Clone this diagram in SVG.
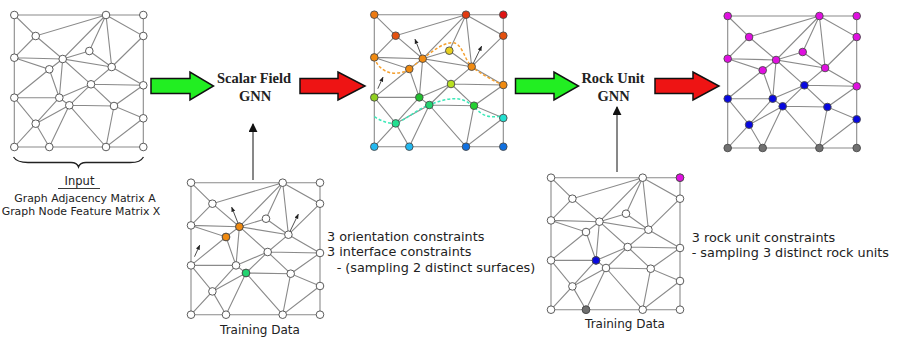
<svg xmlns="http://www.w3.org/2000/svg" xmlns:xlink="http://www.w3.org/1999/xlink" width="897" height="338" viewBox="0 0 897 338">
<style>
.edge{fill:none;stroke:#8a8a8a;stroke-width:1.1}
.nd{stroke:#4a4a4a;stroke-width:0.9}
.w{fill:#fff}
.lbl{font-family:"DejaVu Sans",Verdana,sans-serif;fill:#222}
.gnn{font-family:"Liberation Serif","Times New Roman",serif;font-weight:bold;font-size:14.5px;fill:#222;text-anchor:middle}
.big{stroke:#111;stroke-width:1.5;stroke-linejoin:miter}
.vec{stroke:#222;stroke-width:0.8;fill:none;marker-end:url(#sm)}
.dsh{fill:none;stroke-width:1.5;stroke-dasharray:3 2}
</style>
<defs>
<marker id="sm" viewBox="0 0 10 10" refX="9" refY="5" markerWidth="5" markerHeight="5" orient="auto" markerUnits="userSpaceOnUse"><path d="M0,1 L10,5 L0,9 Z" fill="#222"/></marker>
<marker id="ah" viewBox="0 0 10 10" refX="9" refY="5" markerWidth="9" markerHeight="9" orient="auto" markerUnits="userSpaceOnUse"><path d="M0,0 L10,5 L0,10 Z" fill="#111"/></marker>
<path id="edges" class="edge" d="M0,0 H129 V132 H0 Z M0,0 L21.4,21 L91.7,0 M21.4,21 L0,42.7 M21.4,21 L48.4,44 L91.7,0 L75,36 M91.7,0 L97.4,52 M91.7,0 L129,21 L97.4,52 M75,36 L48.4,44 M75,36 L97.4,52 M0,42.7 L48.4,44 M0,42.7 L35,54.3 L48.4,44 M35,54.3 L0,82.7 M35,54.3 L45,82.7 L48.4,44 L97.4,52 M48.4,44 L76.7,69.3 L97.4,52 L129,70.3 M76.7,69.3 L129,70.3 L99.7,91 L129,103.3 M76.7,69.3 L45,82.7 M76.7,69.3 L55,90.3 M76.7,69.3 L99.7,91 L55,90.3 M99.7,91 L91.7,132 L129,103.3 M55,90.3 L91.7,132 M55,90.3 L35,132 M55,90.3 L21.4,108.7 M45,82.7 L55,90.3 M45,82.7 L21.4,108.7 M0,82.7 L45,82.7 M0,82.7 L21.4,108.7 L0,132 M21.4,108.7 L35,132"/>
<g id="wnodes" class="nd">
<circle cx="0" cy="0" r="3.8"/><circle cx="91.7" cy="0" r="3.8"/><circle cx="129" cy="0" r="3.8"/><circle cx="21.4" cy="21" r="3.8"/><circle cx="129" cy="21" r="3.8"/><circle cx="75" cy="36" r="3.8"/><circle cx="0" cy="42.7" r="3.8"/><circle cx="48.4" cy="44" r="3.8"/><circle cx="35" cy="54.3" r="3.8"/><circle cx="97.4" cy="52" r="3.8"/><circle cx="76.7" cy="69.3" r="3.8"/><circle cx="129" cy="70.3" r="3.8"/><circle cx="0" cy="82.7" r="3.8"/><circle cx="45" cy="82.7" r="3.8"/><circle cx="55" cy="90.3" r="3.8"/><circle cx="99.7" cy="91" r="3.8"/><circle cx="129" cy="103.3" r="3.8"/><circle cx="21.4" cy="108.7" r="3.8"/><circle cx="0" cy="132" r="3.8"/><circle cx="35" cy="132" r="3.8"/><circle cx="91.7" cy="132" r="3.8"/><circle cx="129" cy="132" r="3.8"/>
</g>
<g id="vecs">
<path class="vec" d="M48.4,44 L40.7,24.5"/>
<path class="vec" d="M97.4,52 L107.3,31.5"/>
<path class="vec" d="M3.5,74 L8.7,62.5"/>
</g>
</defs>

<g id="input-graph" transform="translate(14.3,15)">
<use xlink:href="#edges"/>
<use xlink:href="#wnodes" fill="#fff"/>
</g>
<g id="input-label">
<path d="M13.5,157 C16,161 20,162.5 28,162.5 L71,162.5 C75,162.5 77.5,164 78.5,167 C79.5,164 82,162.5 86,162.5 L130,162.5 C138,162.5 141,161 143.5,157" fill="none" stroke="#222" stroke-width="1.3"/>
<text class="lbl" x="79.5" y="185" font-size="11.5" text-anchor="middle">Input</text>
<line x1="58" y1="188.5" x2="100" y2="188.5" stroke="#222" stroke-width="0.9"/>
<text class="lbl" x="85" y="201.5" font-size="10.9" text-anchor="middle">Graph Adjacency Matrix A</text>
<text class="lbl" x="81" y="214.5" font-size="10.9" text-anchor="middle">Graph Node Feature Matrix X</text>
</g>

<g id="scalar-gnn">
<text class="gnn" x="254" y="82.5">Scalar Field</text>
<text class="gnn" x="255" y="100.7">GNN</text>
</g>
<g id="rock-gnn">
<text class="gnn" x="613" y="82.5">Rock Unit</text>
<text class="gnn" x="613.5" y="100.7">GNN</text>
</g>

<g id="scalar-output" transform="translate(374.3,14.7)">
<use xlink:href="#edges"/>
<use xlink:href="#vecs"/>
<path class="dsh" stroke="#f4a030" d="M0,42.7 C3,53 12,59 22,58.5 C28,58 31,57 35,54.3 L48.4,44 C58,37 68,28 78,28 C88,28 90,45 97.4,52 C105,58 118,66 129,70.3"/>
<path class="dsh" stroke="#3de8b8" d="M0,102 C8,107 15,109 21.4,108.7 C32,105 45,93 55,90.3 C65,86 78,82 88,85 C98,88 104,99 112,101 C118,103 124,102 129,101"/>
<g class="nd">
<circle cx="0" cy="0" r="3.8" fill="#ec7a12"/><circle cx="91.7" cy="0" r="3.8" fill="#e23a10"/><circle cx="129" cy="0" r="3.8" fill="#e01414"/><circle cx="21.4" cy="21" r="3.8" fill="#e4500e"/><circle cx="129" cy="21" r="3.8" fill="#e4500e"/><circle cx="75" cy="36" r="3.8" fill="#e8d020"/><circle cx="0" cy="42.7" r="3.8" fill="#f08a10"/><circle cx="48.4" cy="44" r="3.8" fill="#f08a10"/><circle cx="35" cy="54.3" r="3.8" fill="#f08a10"/><circle cx="97.4" cy="52" r="3.8" fill="#f08a10"/><circle cx="76.7" cy="69.3" r="3.8" fill="#b8e020"/><circle cx="129" cy="70.3" r="3.8" fill="#f08a10"/><circle cx="0" cy="82.7" r="3.8" fill="#90d020"/><circle cx="45" cy="82.7" r="3.8" fill="#22c030"/><circle cx="55" cy="90.3" r="3.8" fill="#22d470"/><circle cx="99.7" cy="91" r="3.8" fill="#22d030"/><circle cx="129" cy="103.3" r="3.8" fill="#22e0d0"/><circle cx="21.4" cy="108.7" r="3.8" fill="#22e090"/><circle cx="0" cy="132" r="3.8" fill="#22b8f0"/><circle cx="35" cy="132" r="3.8" fill="#22b8f0"/><circle cx="91.7" cy="132" r="3.8" fill="#1070e0"/><circle cx="129" cy="132" r="3.8" fill="#1070e0"/>
</g>
</g>

<g id="rock-output" transform="translate(727.7,16)">
<use xlink:href="#edges"/>
<g class="nd">
<circle cx="0" cy="0" r="3.8" fill="#e010e0"/><circle cx="91.7" cy="0" r="3.8" fill="#e010e0"/><circle cx="129" cy="0" r="3.8" fill="#e010e0"/><circle cx="21.4" cy="21" r="3.8" fill="#e010e0"/><circle cx="129" cy="21" r="3.8" fill="#e010e0"/><circle cx="75" cy="36" r="3.8" fill="#e010e0"/><circle cx="0" cy="42.7" r="3.8" fill="#e010e0"/><circle cx="48.4" cy="44" r="3.8" fill="#e010e0"/><circle cx="35" cy="54.3" r="3.8" fill="#e010e0"/><circle cx="97.4" cy="52" r="3.8" fill="#e010e0"/><circle cx="76.7" cy="69.3" r="3.8" fill="#0808e0"/><circle cx="129" cy="70.3" r="3.8" fill="#e010e0"/><circle cx="0" cy="82.7" r="3.8" fill="#0808e0"/><circle cx="45" cy="82.7" r="3.8" fill="#0808e0"/><circle cx="55" cy="90.3" r="3.8" fill="#0808e0"/><circle cx="99.7" cy="91" r="3.8" fill="#0808e0"/><circle cx="129" cy="103.3" r="3.8" fill="#0808e0"/><circle cx="21.4" cy="108.7" r="3.8" fill="#0808e0"/><circle cx="0" cy="132" r="3.8" fill="#707070"/><circle cx="35" cy="132" r="3.8" fill="#707070"/><circle cx="91.7" cy="132" r="3.8" fill="#707070"/><circle cx="129" cy="132" r="3.8" fill="#707070"/>
</g>
</g>

<g id="training-scalar" transform="translate(191,182.7)">
<use xlink:href="#edges"/>
<use xlink:href="#vecs"/>
<use xlink:href="#wnodes" fill="#fff"/>
<g class="nd">
<circle cx="48.4" cy="44" r="3.8" fill="#f08a10"/><circle cx="35" cy="54.3" r="3.8" fill="#f08a10"/><circle cx="55" cy="90.3" r="3.8" fill="#22d470"/>
</g>
</g>
<g id="training-scalar-label">
<text class="lbl" x="260" y="334" font-size="12" text-anchor="middle">Training Data</text>
<text class="lbl" x="327" y="240.7" font-size="12.8">3 orientation constraints</text>
<text class="lbl" x="327" y="256.2" font-size="12.8">3 interface constraints</text>
<text class="lbl" x="336.7" y="271.7" font-size="12.8">- (sampling 2 distinct surfaces)</text>
</g>

<g id="training-rock" transform="translate(551,177.7)">
<use xlink:href="#edges"/>
<use xlink:href="#wnodes" fill="#fff"/>
<g class="nd">
<circle cx="129" cy="0" r="3.8" fill="#e010e0"/><circle cx="45" cy="82.7" r="3.8" fill="#0808e0"/><circle cx="35" cy="132" r="3.8" fill="#707070"/>
</g>
</g>
<g id="training-rock-label">
<text class="lbl" x="625" y="327.7" font-size="12" text-anchor="middle">Training Data</text>
<text class="lbl" x="691.7" y="241.7" font-size="12.8">3 rock unit constraints</text>
<text class="lbl" x="691.7" y="256.7" font-size="12.8">- sampling 3 distinct rock units</text>
</g>

<g id="connectors">
<polygon class="big" fill="#22ee22" points="151,78.5 190,78.5 190,72 213.5,86 190,100 190,93.5 151,93.5"/>
<polygon class="big" fill="#ee1414" points="300,78.5 338,78.5 338,72 365,86 338,100 338,93.5 300,93.5"/>
<polygon class="big" fill="#22ee22" points="515.5,78.5 554,78.5 554,72 578.5,86 554,100 554,93.5 515.5,93.5"/>
<polygon class="big" fill="#ee1414" points="655,78.5 693,78.5 693,72 719,86 693,100 693,93.5 655,93.5"/>
<line x1="253" y1="180" x2="253" y2="124" stroke="#111" stroke-width="1" marker-end="url(#ah)"/>
<line x1="617" y1="172" x2="617" y2="107" stroke="#111" stroke-width="1" marker-end="url(#ah)"/>
</g>
</svg>
